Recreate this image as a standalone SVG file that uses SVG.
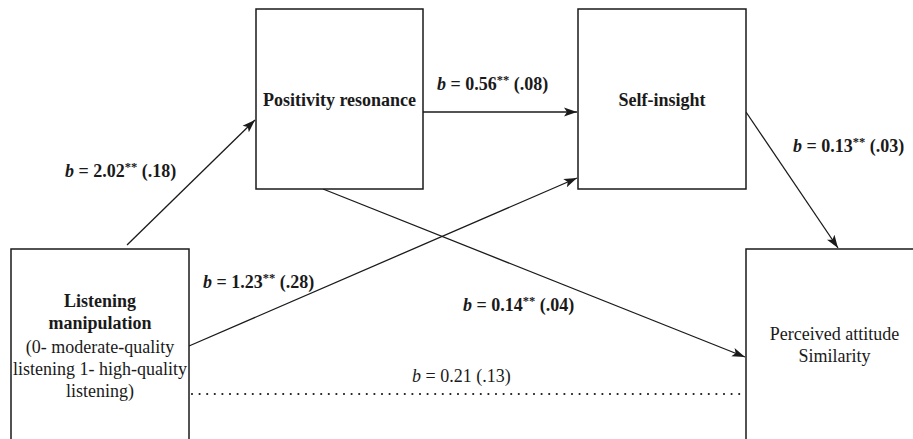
<svg xmlns="http://www.w3.org/2000/svg" width="913" height="439" viewBox="0 0 913 439">
<style>
.box{fill:#fff;stroke:#1a1a1a;stroke-width:1.5}
.t{font-family:"Liberation Serif","Times New Roman",serif;font-size:18px;fill:#1a1a1a}
.b{font-weight:bold}
.c{text-anchor:middle}
.ln{stroke:#1a1a1a;stroke-width:1.3;fill:none}
.sup{font-size:12.5px}
</style>
<defs>
<marker id="ah" markerUnits="userSpaceOnUse" markerWidth="14" markerHeight="10" refX="13" refY="5" orient="auto">
<path d="M0,0.5 L13,5 L0,9.5 L3,5 Z" fill="#1a1a1a"/>
</marker>
</defs>
<rect width="913" height="439" fill="#fff"/>
<g id="connectors">
<line class="ln" x1="127" y1="245" x2="255" y2="120" marker-end="url(#ah)"/>
<line class="ln" x1="423" y1="112" x2="577" y2="112" marker-end="url(#ah)"/>
<line class="ln" x1="189" y1="346" x2="577" y2="178" marker-end="url(#ah)"/>
<line class="ln" x1="323" y1="189" x2="745" y2="357" marker-end="url(#ah)"/>
<line class="ln" x1="746" y1="112" x2="838" y2="248" marker-end="url(#ah)"/>
<line x1="192" y1="394" x2="744" y2="394" stroke="#1a1a1a" stroke-width="2.2" stroke-linecap="round" stroke-dasharray="0 7.6"/>
</g>
<g id="labels">
<text class="t b" x="65" y="177"><tspan font-style="italic">b</tspan> = 2.02<tspan class="sup" dy="-6">**</tspan><tspan dy="6"> (.18)</tspan></text>
<text class="t b" x="437" y="90"><tspan font-style="italic">b</tspan> = 0.56<tspan class="sup" dy="-6">**</tspan><tspan dy="6"> (.08)</tspan></text>
<text class="t b" x="203" y="288"><tspan font-style="italic">b</tspan> = 1.23<tspan class="sup" dy="-6">**</tspan><tspan dy="6"> (.28)</tspan></text>
<text class="t b" x="463" y="311"><tspan font-style="italic">b</tspan> = 0.14<tspan class="sup" dy="-6">**</tspan><tspan dy="6"> (.04)</tspan></text>
<text class="t b" x="793" y="152"><tspan font-style="italic">b</tspan> = 0.13<tspan class="sup" dy="-6">**</tspan><tspan dy="6"> (.03)</tspan></text>
<text class="t" x="412" y="382"><tspan font-style="italic">b</tspan> = 0.21 (.13)</text>
</g>
<g id="listening">
<rect class="box" x="11" y="249" width="178" height="200"/>
<text class="t b c" x="100" y="307">Listening</text>
<text class="t b c" x="100" y="329">manipulation</text>
<text class="t c" x="100" y="353">(0- moderate-quality</text>
<text class="t c" x="100" y="375">listening 1- high-quality</text>
<text class="t c" x="100" y="397">listening)</text>
</g>
<g id="positivity">
<rect class="box" x="256" y="9" width="167" height="180"/>
<text class="t b c" x="339.5" y="106">Positivity resonance</text>
</g>
<g id="selfinsight">
<rect class="box" x="578" y="9" width="168" height="180"/>
<text class="t b c" x="662" y="106">Self-insight</text>
</g>
<g id="perceived">
<rect class="box" x="746" y="249" width="180" height="200"/>
<text class="t c" x="834.5" y="340" font-size="19">Perceived attitude</text>
<text class="t c" x="834.5" y="362" font-size="19">Similarity</text>
</g>
</svg>
